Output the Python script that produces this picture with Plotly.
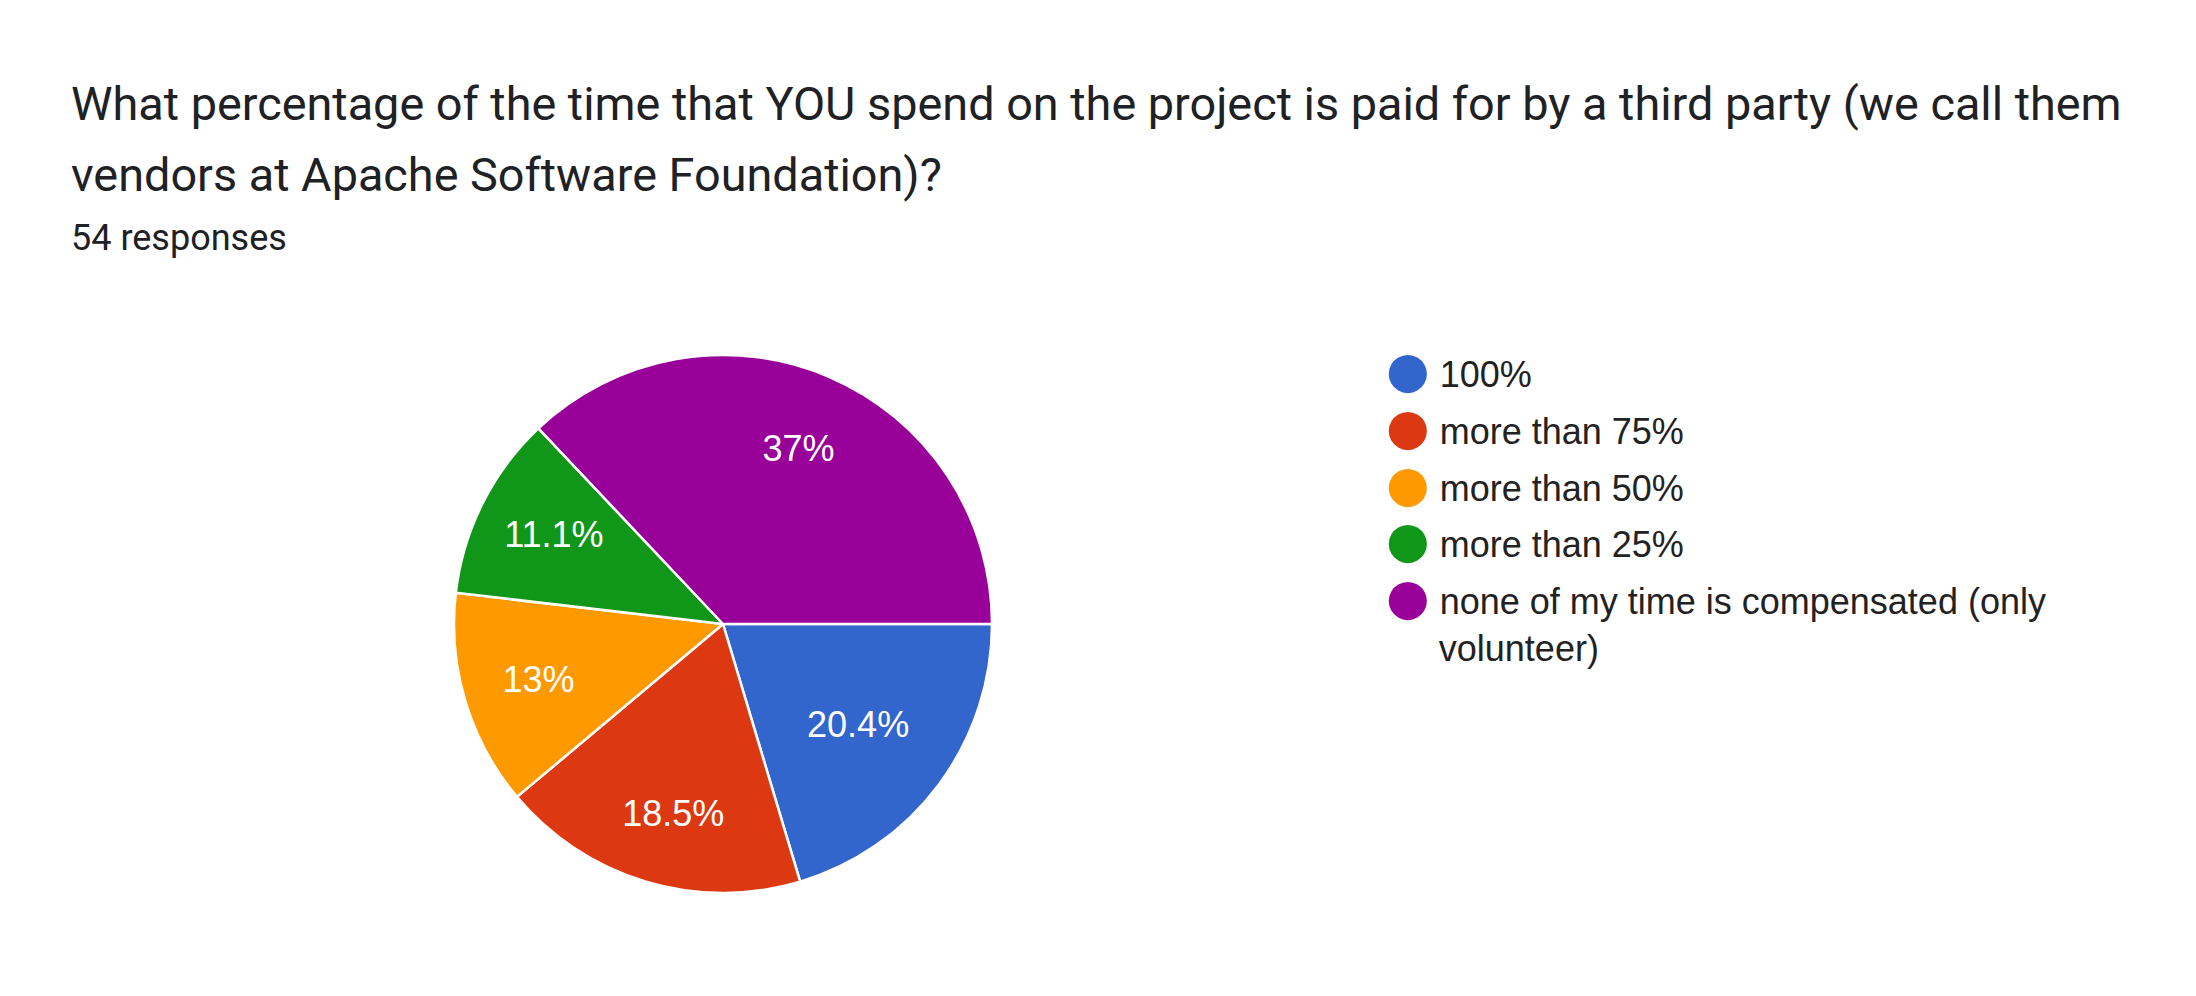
import plotly.graph_objects as go

# answers in the order Google Forms lists them, with response counts (54 total)
answers = ["100%", "more than 75%", "more than 50%", "more than 25%",
           "none of my time is compensated (only<br>volunteer)"]
counts = [11, 10, 7, 6, 20]
colors = ["#3366cc", "#dc3912", "#ff9900", "#109618", "#990099"]

title_lines = ["What percentage of the time that YOU spend on the project is paid for by a third party (we call them",
               "vendors at Apache Software Foundation)?"]
subtitle = "54 responses"

# the page body has an 8px margin, so the figure is a bit smaller than the window
OFF = 8
W, H = 2196 - OFF, 996 - OFF


def px(x):
    return (x - OFF) / W


def py(y):
    return (H - (y - OFF)) / H


nb = "\u00a0"
# padding nudges plotly's inside labels towards where Google puts them
label_fmt = [
    "%{percent}",
    nb + "<br>%{percent}",
    "%{percent}",
    nb * 2 + "%{percent}",
    nb * 4 + "%{percent}<br>" + nb + "<br>" + nb,
]

fig = go.Figure()
fig.add_trace(go.Pie(
    labels=answers, values=counts, sort=False, direction="clockwise", rotation=90,
    marker=dict(colors=colors, line=dict(color="white", width=2.5)),
    textinfo="percent", textposition="inside", insidetextorientation="horizontal",
    texttemplate=label_fmt,
    insidetextfont=dict(family="Liberation Sans, Arial", size=36, color="white"),
    domain=dict(x=[px(454), px(992)], y=[py(893), py(355)]),
    showlegend=False, hoverinfo="label+percent",
))

# legend with big round bullets like Google Forms
dot = '<span style="color:{c};font-family:DejaVu Sans;font-size:50px">●</span> '
indent = '<span style="font-size:38px">' + nb * 5 + '</span>'
for name, c in zip(answers, colors):
    parts = name.split("<br>")
    label = dot.format(c=c) + parts[0]
    for extra in parts[1:]:
        label += "<br>" + indent + extra
    fig.add_trace(go.Scatter(x=[None], y=[None], mode="lines", line=dict(width=0),
                             name=label, legendgroup=name, showlegend=True))

fig.update_layout(
    width=W, height=H, margin=dict(l=0, r=0, t=0, b=0),
    paper_bgcolor="white", plot_bgcolor="white",
    xaxis=dict(visible=False), yaxis=dict(visible=False),
    legend=dict(x=px(1346), y=py(343), xanchor="left", yanchor="top",
                font=dict(family="Liberation Sans, Arial", size=36, color="#222222"),
                tracegroupgap=7, itemclick=False, itemdoubleclick=False),
    annotations=[
        dict(text=title_lines[0], x=px(69), y=py(104), xref="paper", yref="paper",
             xanchor="left", yanchor="middle", showarrow=False,
             font=dict(family="Roboto", size=46.8, color="#202124")),
        dict(text=title_lines[1], x=px(69), y=py(175), xref="paper", yref="paper",
             xanchor="left", yanchor="middle", showarrow=False,
             font=dict(family="Roboto", size=46.8, color="#202124")),
        dict(text=subtitle, x=px(69), y=py(238), xref="paper", yref="paper",
             xanchor="left", yanchor="middle", showarrow=False,
             font=dict(family="Roboto", size=36, color="#202124")),
    ],
)

fig.write_html("out.html")
